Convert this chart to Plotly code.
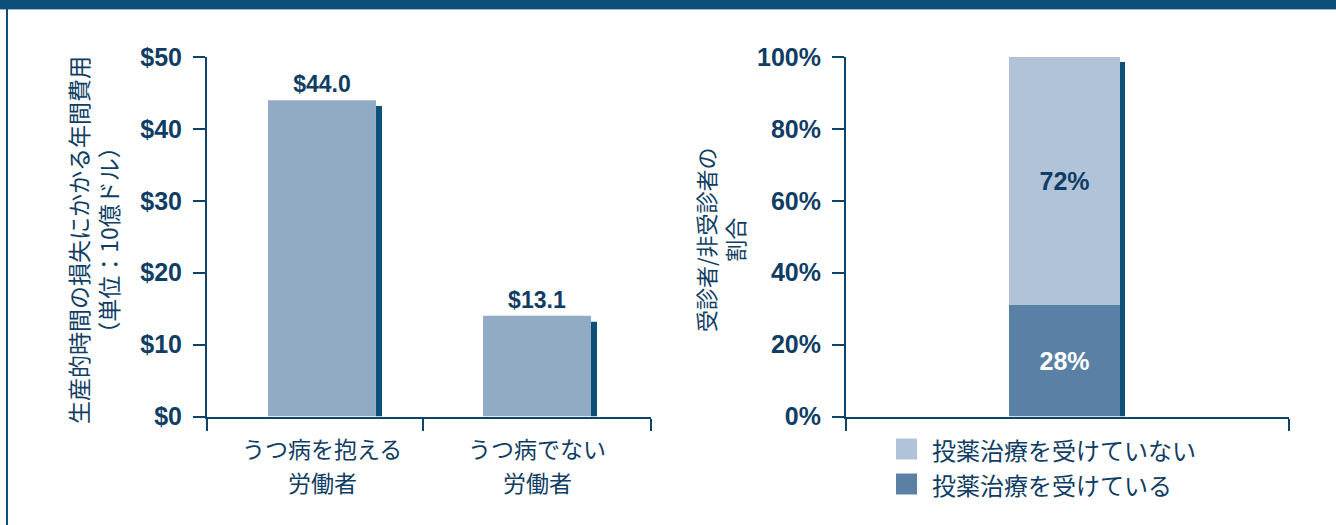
import plotly.graph_objects as go

W, H = 1336, 525

# ---- data ----
left_categories = ["うつ病を抱える<br>労働者", "うつ病でない<br>労働者"]
left_values = [44.0, 14.0]          # bar heights as drawn
left_labels = ["$44.0", "$13.1"]    # printed labels
left_yticks = [0, 10, 20, 30, 40, 50]
left_yticktext = ["$0", "$10", "$20", "$30", "$40", "$50"]

right_series = ["投薬治療を受けている", "投薬治療を受けていない"]
right_values = [31, 69]             # segment heights as drawn (bottom, top)
right_labels = ["28%", "72%"]
right_yticks = [0, 20, 40, 60, 80, 100]
right_yticktext = ["0%", "20%", "40%", "60%", "80%", "100%"]

# ---- styles ----
NAVY = "#0c4f78"
TEXT = "#0f3d64"
AXIS = "#0d436c"
BAR_L = "#92abc5"
LIGHT_R = "#b0c3d8"
DARK_R = "#5b80a5"
NUM_FONT = "Liberation Sans Narrow, Liberation Sans, Arial, sans-serif"
JP_FONT = "Noto Sans CJK JP, Noto Sans, sans-serif"


def fx(px):
    return px / W


def fy(py):
    return 1 - py / H


fig = go.Figure()

# left chart: shadow then main bars
lx = list(range(len(left_values)))
fig.add_trace(go.Bar(
    x=lx, y=[v - 0.83 for v in left_values], offset=0.251, width=0.028,
    marker=dict(color=NAVY, line=dict(width=0)), showlegend=False, hoverinfo="skip",
    xaxis="x", yaxis="y"))
fig.add_trace(go.Bar(
    x=lx, y=left_values, offset=-0.251, width=0.502,
    marker=dict(color=BAR_L, line=dict(width=0)),
    text=left_labels, textposition="outside", cliponaxis=False, constraintext="none",
    textfont=dict(family=NUM_FONT, size=23, color=TEXT, weight="bold"),
    showlegend=False, xaxis="x", yaxis="y"))

# right chart: shadow then stacked segments
fig.add_trace(go.Bar(
    x=[0], y=[sum(right_values) - 1.4], offset=0.1253, width=0.0113,
    marker=dict(color=NAVY, line=dict(width=0)), showlegend=False, hoverinfo="skip",
    xaxis="x2", yaxis="y2"))
fig.add_trace(go.Bar(
    x=[0], y=[right_values[0]], offset=-0.1253, width=0.2506,
    name=right_series[0], marker=dict(color=DARK_R, line=dict(width=0)),
    text=[right_labels[0]], textposition="inside", insidetextanchor="middle",
    textangle=0, constraintext="none",
    textfont=dict(family=NUM_FONT, size=25, color="white", weight="bold"),
    showlegend=False, xaxis="x2", yaxis="y2"))
fig.add_trace(go.Bar(
    x=[0], y=[right_values[1]], base=[right_values[0]], offset=-0.1253, width=0.2506,
    name=right_series[1], marker=dict(color=LIGHT_R, line=dict(width=0)),
    text=[right_labels[1]], textposition="inside", insidetextanchor="middle",
    textangle=0, constraintext="none",
    textfont=dict(family=NUM_FONT, size=25, color=TEXT, weight="bold"),
    showlegend=False, xaxis="x2", yaxis="y2"))

ydom = [fy(416.5), fy(57)]
common_y = dict(showgrid=False, zeroline=False, showline=True, linecolor=AXIS, linewidth=2,
                ticks="outside", ticklen=12, tickwidth=2, tickcolor=AXIS,
                tickfont=dict(family=NUM_FONT, size=25, color=TEXT, weight="bold"),
                ticklabelstandoff=6, automargin=False)

fig.update_layout(
    width=W, height=H, margin=dict(l=0, r=0, t=0, b=0, autoexpand=False),
    paper_bgcolor="white", plot_bgcolor="white", barmode="overlay",
    showlegend=False,
    xaxis=dict(domain=[fx(207), fx(651)], range=[-0.5349, 1.5302], anchor="y",
               showgrid=False, zeroline=False, showline=True, linecolor=AXIS, linewidth=2,
               tickvals=[-0.5349, 0.47, 1.5302], ticktext=["", "", ""],
               ticks="outside", ticklen=12, tickwidth=2, tickcolor=AXIS,
               automargin=False),
    yaxis=dict(domain=ydom, range=[0, 50], anchor="x", tickvals=left_yticks,
               ticktext=left_yticktext, **common_y),
    xaxis2=dict(domain=[fx(846), fx(1289)], range=[-0.4932, 0.5068], anchor="y2",
                showgrid=False, zeroline=False, showline=True, linecolor=AXIS, linewidth=2,
                tickvals=[-0.4932, 0.5068], ticktext=["", ""], ticks="outside", ticklen=12,
                tickwidth=2, tickcolor=AXIS, automargin=False),
    yaxis2=dict(domain=ydom, range=[0, 100], anchor="x2", tickvals=right_yticks,
                ticktext=right_yticktext, **common_y),
)

# category labels (one annotation per line, centred under each bar)
line_centres = [448, 482]
for xi, cat in zip(lx, left_categories):
    for line, cy in zip(cat.split("<br>"), line_centres):
        fig.add_annotation(x=xi, y=fy(cy), xref="x", yref="paper", showarrow=False,
                           text=line, xanchor="center", yanchor="middle",
                           font=dict(family=JP_FONT, size=23, color=TEXT))

# axis titles
fig.add_annotation(x=fx(93), y=fy(240), xref="paper", yref="paper", showarrow=False,
                   text="生産的時間の損失にかかる年間費用<br>（単位：10億ドル）", textangle=-90,
                   xanchor="center", yanchor="middle",
                   font=dict(family=JP_FONT, size=23, color=TEXT))
fig.add_annotation(x=fx(720), y=fy(240), xref="paper", yref="paper", showarrow=False,
                   text="受診者/非受診者の<br>割合", textangle=-90,
                   xanchor="center", yanchor="middle",
                   font=dict(family=JP_FONT, size=22, color=TEXT))

# manual legend (top entry = upper segment)
legend_rows = [(right_series[1], LIGHT_R, 449), (right_series[0], DARK_R, 484)]
for name, col, cy in legend_rows:
    fig.add_shape(type="rect", xref="paper", yref="paper",
                  x0=fx(896), x1=fx(917), y0=fy(cy + 10.5), y1=fy(cy - 10.5),
                  fillcolor=col, line=dict(width=0))
    fig.add_annotation(x=fx(930), y=fy(cy), xref="paper", yref="paper", showarrow=False,
                       text=name, xanchor="left", yanchor="middle",
                       font=dict(family=JP_FONT, size=24, color=TEXT))

# frame: top band and left border
fig.add_shape(type="rect", xref="paper", yref="paper", x0=0, x1=1, y0=fy(9), y1=1,
              fillcolor=NAVY, line=dict(width=0), layer="above")
fig.add_shape(type="line", xref="paper", yref="paper", x0=0, x1=1, y0=fy(9.5), y1=fy(9.5),
              line=dict(color="#9dbad3", width=1))
fig.add_shape(type="rect", xref="paper", yref="paper", x0=fx(6), x1=fx(8), y0=0, y1=fy(9),
              fillcolor=NAVY, line=dict(width=0))

fig.write_html("out.html")
